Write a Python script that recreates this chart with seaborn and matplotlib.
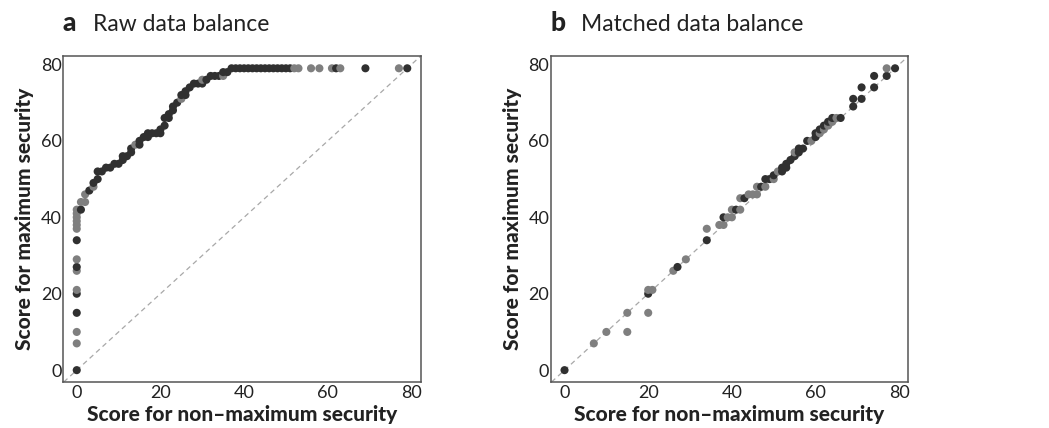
import matplotlib
matplotlib.use("Agg")
import matplotlib.pyplot as plt
import seaborn as sns
import pandas as pd

# Panel a: raw data quantile pairs (non-max score, max score, shade)
raw_x = [0, 0, 0, 0, 0, 0, 0, 0, 0, 0, 0, 0, 0, 0, 0, 0, 1,
         1, 2, 2, 3, 4, 4, 5, 5, 6, 7, 8, 9, 10, 11, 11, 12, 13, 13,
         14, 15, 15, 16, 17, 17, 18, 19, 20, 20, 21, 21, 22, 22, 23, 23,
         24, 25, 25, 26, 26, 27, 28, 29, 30, 30, 31, 32, 33, 34, 35, 35,
         36, 37, 38, 39, 40, 41, 42, 43, 44, 45, 46, 47, 48, 49, 50, 51,
         52, 53, 56, 58, 61, 62, 63, 69, 77, 79]
raw_y = [0, 7, 10, 15, 20, 21, 26, 27, 29, 34, 37, 38, 39, 40, 41, 42, 42,
         44, 44, 46, 47, 48, 49, 50, 52, 52, 53, 53, 54, 54, 55, 56, 56, 57, 58,
         59, 59, 60, 61, 61, 62, 62, 62, 62, 63, 64, 66, 66, 67, 68, 69,
         70, 71, 72, 72, 73, 74, 75, 75, 75, 76, 76, 77, 77, 77, 77, 78,
         78, 79, 79, 79, 79, 79, 79, 79, 79, 79, 79, 79, 79, 79, 79, 79,
         79, 79, 79, 79, 79, 79, 79, 79, 79, 79]
raw_shade = ["dark", "gray", "gray", "dark", "dark", "gray", "gray", "dark", "gray", "dark",
             "gray", "gray", "gray", "gray", "gray", "gray", "dark",
             "gray", "gray", "gray", "dark", "gray", "dark", "dark", "dark", "dark",
             "dark", "dark", "dark", "dark", "dark", "dark", "dark", "dark", "dark",
             "gray", "dark", "dark", "dark", "dark", "dark", "dark", "dark", "dark",
             "dark", "dark", "dark", "dark", "dark", "dark", "dark", "dark", "gray",
             "dark", "dark", "dark", "dark", "dark", "dark", "dark", "gray", "dark",
             "dark", "dark", "dark", "gray", "dark", "dark", "dark", "dark", "dark",
             "dark", "dark", "dark", "dark", "dark", "dark", "dark", "dark", "dark",
             "dark", "dark", "dark", "gray", "gray", "gray", "gray", "gray", "dark",
             "gray", "dark", "gray", "dark"]

# Panel b: matched data quantile pairs
match_x = [0, 7, 10, 15, 15, 20, 20, 20, 21, 26, 27, 29, 34, 34, 37, 38, 38,
           39, 40, 40, 41, 42, 42, 43, 44, 45, 46, 46, 47, 48, 48, 49, 50, 50,
           51, 52, 52, 53, 53, 54, 55, 55, 56, 56, 57, 58, 59, 60, 60, 61, 61,
           62, 62, 63, 63, 64, 64, 65, 66, 69, 69, 71, 71, 74, 74, 77, 77, 79]
match_y = [0, 7, 10, 10, 15, 15, 20, 21, 21, 26, 27, 29, 34, 37, 38, 38, 40,
           40, 40, 42, 42, 42, 45, 45, 46, 46, 46, 48, 48, 48, 50, 50, 50, 51,
           52, 52, 53, 53, 54, 55, 56, 57, 57, 58, 58, 60, 60, 61, 62, 62, 63,
           63, 64, 64, 65, 65, 66, 66, 66, 69, 71, 71, 74, 74, 77, 77, 79, 79]
match_shade = ["dark", "gray", "gray", "gray", "gray", "gray", "dark", "gray", "gray",
               "gray", "dark", "gray", "dark", "gray", "gray", "gray", "dark", "gray",
               "gray", "gray", "dark", "gray", "gray", "dark", "gray", "gray", "gray",
               "gray", "dark", "gray", "dark", "dark", "gray", "dark", "gray", "dark",
               "dark", "dark", "dark", "dark", "dark", "gray", "dark", "dark", "dark",
               "dark", "gray", "dark", "dark", "gray", "dark", "gray", "dark", "gray",
               "dark", "gray", "dark", "gray", "dark", "dark", "dark", "dark", "dark",
               "dark", "dark", "dark", "gray", "dark"]

panels = [("a", "Raw data balance", raw_x, raw_y, raw_shade),
          ("b", "Matched data balance", match_x, match_y, match_shade)]

sns.set_style("white")
plt.rcParams["font.family"] = ["Lato", "DejaVu Sans"]

palette = {"gray": "#7f7f7f", "dark": "#303030"}
fig = plt.figure(figsize=(10.49, 4.28), dpi=100)
lefts = [0.060, 0.525]

for left, (letter, title, xs, ys, shade) in zip(lefts, panels):
    ax = fig.add_axes([left, 0.1075, 0.341, 0.7615])
    df = pd.DataFrame({"x": xs, "y": ys, "shade": shade})
    ax.axline((0, 0), slope=1, color="#a8a8a8", lw=0.9, ls=(0, (4, 3)), zorder=1)
    sns.scatterplot(data=df, x="x", y="y", hue="shade", palette=palette,
                    s=34, linewidth=0, legend=False, ax=ax, zorder=2)
    ax.set_xlim(-3.3, 82.2)
    ax.set_ylim(-3.1, 82.2)
    ax.set_xticks([0, 20, 40, 60, 80])
    ax.set_yticks([0, 20, 40, 60, 80])
    ax.tick_params(direction="in", length=6, width=1, color="#444444",
                   labelsize=13, pad=2, labelcolor="#222222")
    ax.tick_params(axis="y", pad=1)
    for sp in ax.spines.values():
        sp.set_color("#555555")
        sp.set_linewidth(1.1)
    ax.set_xlabel("Score for non\u2013maximum security", fontsize=15,
                  fontweight="black", labelpad=3, color="#222222")
    ax.set_ylabel("Score for maximum security", fontsize=15,
                  fontweight="black", labelpad=5, color="#222222")
    ax.text(0.0, 1.064, letter, transform=ax.transAxes, fontsize=19,
            fontweight="black", color="#222222", va="bottom")
    ax.text(0.085, 1.064, title, transform=ax.transAxes, fontsize=16.5,
            color="#222222", va="bottom")

fig.savefig("out.png", dpi=100)
